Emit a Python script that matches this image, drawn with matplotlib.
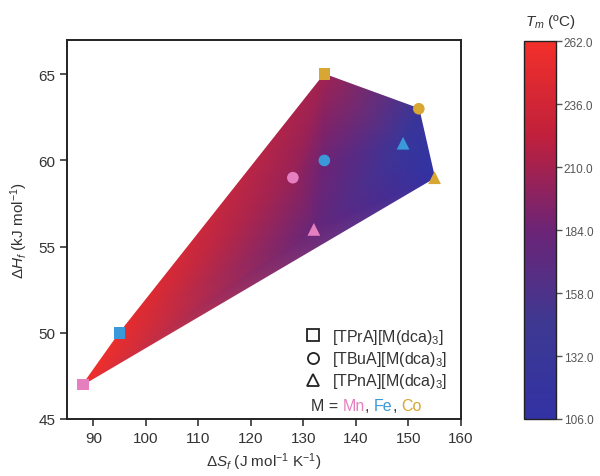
import matplotlib
matplotlib.use("Agg")
import matplotlib.pyplot as plt
import matplotlib.tri as mtri
from matplotlib.colors import LinearSegmentedColormap
from matplotlib.lines import Line2D
from matplotlib.offsetbox import TextArea, HPacker, AnchoredOffsetbox
import numpy as np

plt.rcParams['font.family'] = ['Liberation Sans', 'DejaVu Sans']
plt.rcParams['mathtext.fontset'] = 'custom'
plt.rcParams['mathtext.rm'] = 'Liberation Sans'
plt.rcParams['mathtext.it'] = 'Liberation Sans:italic'
plt.rcParams['mathtext.bf'] = 'Liberation Sans:bold'

# Data
metals = ['Mn', 'Fe', 'Co']
metal_colors = {'Mn': '#e67fc0', 'Fe': '#3a9ad9', 'Co': '#d8a632'}
cations = ['[TPrA][M(dca)$_3$]', '[TBuA][M(dca)$_3$]', '[TPnA][M(dca)$_3$]']
cation_markers = ['s', 'o', '^']
# dS (J mol-1 K-1), dH (kJ mol-1), Tm (C) per cation, ordered Mn, Fe, Co
dS = {'TPrA': [88, 95, 134], 'TBuA': [128, 134, 152], 'TPnA': [132, 149, 155]}
dH = {'TPrA': [47, 50, 65], 'TBuA': [59, 60, 63], 'TPnA': [56, 61, 59]}
Tm = {'TPrA': [262, 255, 208], 'TBuA': [204, 184, 130], 'TPnA': [180, 126, 106]}
cation_keys = ['TPrA', 'TBuA', 'TPnA']
cbar_ticks = [106.0, 132.0, 158.0, 184.0, 210.0, 236.0, 262.0]

cmap = LinearSegmentedColormap.from_list('tm', [
    (0.0, '#3232a4'), (0.25, '#3d3992'), (0.5, '#6c2476'),
    (0.75, '#c0203c'), (1.0, '#f2302a')])

fig = plt.figure(figsize=(6.0, 4.77), dpi=100)
ax = fig.add_axes([0.112, 0.1195, 0.656, 0.795])
cax = fig.add_axes([0.873, 0.1195, 0.053, 0.792])

xs = np.concatenate([dS[k] for k in cation_keys]).astype(float)
ys = np.concatenate([dH[k] for k in cation_keys]).astype(float)
zs = np.concatenate([Tm[k] for k in cation_keys]).astype(float)
tri = mtri.Triangulation(xs, ys)
tpc = ax.tripcolor(tri, zs, shading='gouraud', cmap=cmap,
                   vmin=min(cbar_ticks), vmax=max(cbar_ticks), zorder=1)

for k, mk in zip(cation_keys, cation_markers):
    for i, m in enumerate(metals):
        ax.scatter(dS[k][i], dH[k][i], marker=mk, s=70 if mk != '^' else 85,
                   color=metal_colors[m], edgecolors='none', zorder=3,
                   clip_on=False)

ax.set_xlim(85, 160)
ax.set_ylim(45, 67)
ax.set_xticks(np.arange(90, 161, 10))
ax.set_yticks(np.arange(45, 66, 5))
ax.tick_params(labelsize=11, direction='out', length=5, width=1.2, colors='#333333', labelcolor='#333333')
for sp in ax.spines.values():
    sp.set_linewidth(1.4)
    sp.set_color('#222222')
ax.set_xlabel(r'$\Delta S_f$ (J mol$^{-1}$ K$^{-1}$)', fontsize=11, color='#333333', labelpad=4)
ax.set_ylabel(r'$\Delta H_f$ (kJ mol$^{-1}$)', fontsize=11, color='#333333', labelpad=6)

handles = [Line2D([], [], marker=mk, linestyle='none', markerfacecolor='none',
                  markeredgecolor='#222222', markeredgewidth=1.3, markersize=8)
           for mk in cation_markers]
leg = ax.legend(handles, cations, loc='lower right', bbox_to_anchor=(0.99, 0.05),
                frameon=False, fontsize=11.5, handletextpad=0.2, labelspacing=0.2,
                borderaxespad=0.2)
for t in leg.get_texts():
    t.set_color('#333333')

parts = [TextArea('M = ', textprops=dict(color='#333333', fontsize=11.5)),
         TextArea('Mn', textprops=dict(color=metal_colors['Mn'], fontsize=11.5)),
         TextArea(', ', textprops=dict(color='#333333', fontsize=11.5)),
         TextArea('Fe', textprops=dict(color=metal_colors['Fe'], fontsize=11.5)),
         TextArea(', ', textprops=dict(color='#333333', fontsize=11.5)),
         TextArea('Co', textprops=dict(color=metal_colors['Co'], fontsize=11.5)),]
box = HPacker(children=parts, align='baseline', pad=0, sep=0)
anch = AnchoredOffsetbox(loc='lower right', child=box, frameon=False,
                         bbox_to_anchor=(0.915, 0.0), bbox_transform=ax.transAxes,
                         borderpad=0)
ax.add_artist(anch)

cb = fig.colorbar(tpc, cax=cax, ticks=cbar_ticks)
cb.ax.set_yticklabels([f'{v:.1f}' for v in cbar_ticks])
cb.ax.tick_params(labelsize=8.5, length=4, width=1, pad=2, colors='#555555', labelcolor='#555555')
cb.outline.set_linewidth(1.0)
cb.outline.set_edgecolor('#222222')
cax.set_title(r'$T_m$ (ºC)', fontsize=11, color='#333333', pad=12, x=0.85)

fig.savefig('out.png', dpi=100)
